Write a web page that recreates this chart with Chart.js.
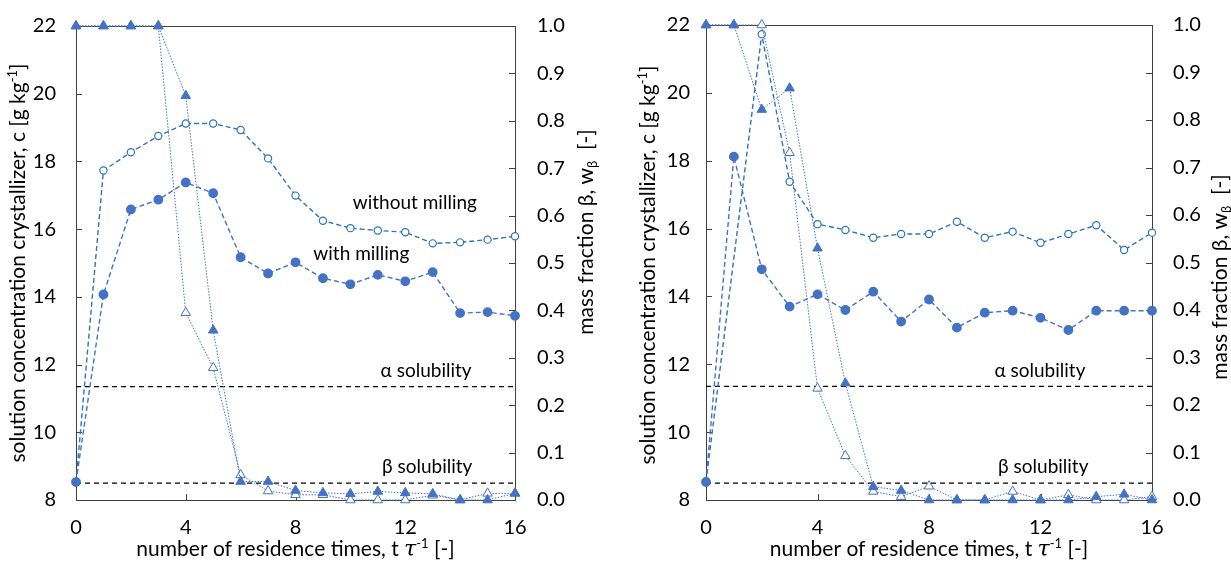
<!DOCTYPE html>
<html>
<head>
<meta charset="utf-8">
<script src="https://cdn.jsdelivr.net/npm/chart.js@4"></script>
<style>
  body { margin: 0; background: #fff; width: 1231px; height: 565px; overflow: hidden; position: relative; }
  canvas { position: absolute; top: -8px; }
  #leftChart { left: 0; }
  #rightChart { left: 615px; }
</style>
</head>
<body>
<canvas id="leftChart" width="615" height="573"></canvas>
<canvas id="rightChart" width="616" height="573"></canvas>
<script>
// Sample data
const residence = [0, 1, 2, 3, 4, 5, 6, 7, 8, 9, 10, 11, 12, 13, 14, 15, 16];
const alphaSolubility = 11.35;
const betaSolubility = 8.5;

// left panel
const leftWithoutMilling = [8.53, 17.73, 18.27, 18.75, 19.12, 19.12, 18.93, 18.09, 16.99, 16.25, 16.03, 15.96, 15.91, 15.58, 15.61, 15.69, 15.79];
const leftWithMilling = [8.53, 14.07, 16.58, 16.87, 17.38, 17.06, 15.17, 14.69, 15.02, 14.55, 14.37, 14.65, 14.46, 14.73, 13.52, 13.55, 13.44];
const leftBetaFilled = [1, 1, 1, 1, 0.853, 0.358, 0.039, 0.039, 0.02, 0.015, 0.013, 0.018, 0.015, 0.013, 0, 0, 0.014];
const leftBetaOpen = [1, 1, 1, 1, 0.395, 0.279, 0.053, 0.019, 0.011, 0.011, 0, 0, 0, 0.01, 0, 0.014, 0.014];

// right panel
const rightWithoutMilling = [8.53, null, 21.73, 17.38, 16.13, 15.96, 15.73, 15.84, 15.84, 16.2, 15.73, 15.91, 15.58, 15.84, 16.1, 15.37, 15.88];
const rightWithMilling = [8.53, 18.12, 14.8, 13.7, 14.06, 13.6, 14.14, 13.26, 13.91, 13.08, 13.52, 13.58, 13.37, 13.01, 13.58, 13.58, 13.58];
const rightBetaFilled = [1, 1, 0.822, 0.867, 0.53, 0.246, 0.028, 0.02, 0, 0, 0, 0, 0, 0, 0.007, 0.012, 0];
const rightBetaOpen = [1, 1, 1, 0.731, 0.235, 0.093, 0.018, 0.007, 0.029, 0, 0, 0.018, 0, 0.011, 0, 0, 0.007];

const blue = '#4472C4';
const openBlue = '#2E75B6';
const FONT = 'Lato';
const SHIFT = 8; // canvases sit 8px above the page top

function pairs(values) {
    return residence.map((t, i) => ({ x: t, y: values[i] }));
}

function flatLine(value) {
    return [{ x: residence[0], y: value }, { x: residence[residence.length - 1], y: value }];
}

// draws a line of text made of pieces (for super/subscripts)
function drawRich(ctx, segs, cx, cy, rot) {
    ctx.save();
    ctx.translate(cx, cy);
    ctx.rotate(rot);
    ctx.textAlign = 'left';
    ctx.textBaseline = 'alphabetic';
    ctx.fillStyle = '#000';
    let total = 0;
    segs.forEach(s => { ctx.font = s.font; s.w = ctx.measureText(s.t).width; total += s.w; });
    let px = -total / 2;
    segs.forEach(s => { ctx.font = s.font; ctx.fillText(s.t, px, 7 + (s.dy || 0)); px += s.w; });
    ctx.restore();
}

const big = '21px ' + FONT;
const small = '13px ' + FONT;
const noteFont = '19px ' + FONT;

const decorPlugin = {
    id: 'decor',
    beforeDatasetsDraw(chart) {
        const ctx = chart.ctx;
        const a = chart.chartArea;
        const xs = chart.scales.x, ys = chart.scales.y, y1s = chart.scales.y1;
        ctx.save();
        ctx.strokeStyle = '#404040';
        ctx.lineWidth = 1;
        ctx.strokeRect(Math.round(a.left) + 0.5, Math.round(a.top) + 0.5, Math.round(a.right - a.left), Math.round(a.bottom - a.top));
        ctx.beginPath();
        ys.ticks.forEach(t => {
            const p = Math.round(ys.getPixelForValue(t.value)) + 0.5;
            ctx.moveTo(a.left, p); ctx.lineTo(a.left + 6, p);
        });
        y1s.ticks.forEach(t => {
            const p = Math.round(y1s.getPixelForValue(t.value)) + 0.5;
            ctx.moveTo(a.right, p); ctx.lineTo(a.right - 6, p);
        });
        xs.ticks.forEach(t => {
            const p = Math.round(xs.getPixelForValue(t.value)) + 0.5;
            ctx.moveTo(p, a.bottom); ctx.lineTo(p, a.bottom - 6);
        });
        ctx.stroke();
        ctx.restore();
    },
    afterDraw(chart, args, opts) {
        const ctx = chart.ctx;
        const a = chart.chartArea;
        const xs = chart.scales.x, ys = chart.scales.y;
        ctx.save();
        ctx.fillStyle = '#000';
        ctx.font = noteFont;
        ctx.textAlign = 'center';
        ctx.textBaseline = 'middle';
        opts.notes.forEach(n => ctx.fillText(n.text, xs.getPixelForValue(n.x), ys.getPixelForValue(n.y)));
        ctx.restore();

        drawRich(ctx, [
            { t: 'solution concentration crystallizer, c [g kg', font: big },
            { t: '-1', font: small, dy: -8 },
            { t: ']', font: big }
        ], opts.leftTitle.x, opts.leftTitle.y + SHIFT, -Math.PI / 2);

        drawRich(ctx, [
            { t: 'mass fraction \u03B2, w', font: big },
            { t: '\u03B2', font: small, dy: 4 },
            { t: '  [-]', font: big }
        ], opts.rightTitle.x, opts.rightTitle.y + SHIFT, -Math.PI / 2);

        drawRich(ctx, [
            { t: 'number of residence times, t ', font: big },
            { t: '\u03C4', font: 'italic 22px "DejaVu Serif"' },
            { t: '-1', font: small, dy: -8 },
            { t: ' [-]', font: big }
        ], (a.left + a.right) / 2, opts.bottomTitleY + SHIFT, 0);
    }
};

function makeChart(canvasId, withoutMilling, withMilling, betaFilled, betaOpen, layout) {
    return new Chart(document.getElementById(canvasId), {
        type: 'line',
        data: {
            datasets: [
                {
                    label: 'mass fraction (filled)',
                    data: pairs(betaFilled),
                    yAxisID: 'y1',
                    borderColor: blue,
                    borderWidth: 1,
                    borderDash: [1.5, 1.5],
                    pointStyle: 'triangle',
                    pointRadius: 5.5,
                    pointBackgroundColor: blue,
                    pointBorderColor: blue,
                    pointBorderWidth: 1,
                    clip: false
                },
                {
                    label: 'mass fraction (open)',
                    data: pairs(betaOpen),
                    yAxisID: 'y1',
                    borderColor: blue,
                    borderWidth: 1,
                    borderDash: [1.5, 1.5],
                    pointStyle: 'triangle',
                    pointRadius: 5.5,
                    pointBackgroundColor: '#fff',
                    pointBorderColor: blue,
                    pointBorderWidth: 1,
                    clip: false
                },
                {
                    label: 'with milling',
                    data: pairs(withMilling),
                    yAxisID: 'y',
                    borderColor: blue,
                    borderWidth: 1.4,
                    borderDash: [5, 3],
                    pointStyle: 'circle',
                    pointRadius: 4.2,
                    pointBackgroundColor: blue,
                    pointBorderColor: blue,
                    clip: false
                },
                {
                    label: 'without milling',
                    data: pairs(withoutMilling),
                    yAxisID: 'y',
                    spanGaps: true,
                    borderColor: openBlue,
                    borderWidth: 1.4,
                    borderDash: [5, 3],
                    pointStyle: 'circle',
                    pointRadius: 3.6,
                    pointBackgroundColor: '#fff',
                    pointBorderColor: openBlue,
                    pointBorderWidth: 1.2,
                    clip: false
                },
                {
                    label: 'alpha solubility',
                    data: flatLine(alphaSolubility),
                    yAxisID: 'y',
                    borderColor: '#000',
                    borderWidth: 1.2,
                    borderDash: [5, 4],
                    pointRadius: 0
                },
                {
                    label: 'beta solubility',
                    data: flatLine(betaSolubility),
                    yAxisID: 'y',
                    borderColor: '#000',
                    borderWidth: 1.2,
                    borderDash: [5, 4],
                    pointRadius: 0
                }
            ]
        },
        options: {
            responsive: false,
            animation: false,
            devicePixelRatio: 1,
            layout: { padding: { top: 18, left: 0, right: 0, bottom: 0 } },
            elements: { line: { tension: 0 } },
            scales: {
                x: {
                    type: 'linear',
                    min: 0,
                    max: 16,
                    grid: { display: false, drawTicks: false },
                    border: { display: false },
                    ticks: { stepSize: 4, padding: 16, color: '#000', font: { family: FONT, size: 20 } },
                    afterFit: s => { s.height = 65; }
                },
                y: {
                    position: 'left',
                    min: 8,
                    max: 22,
                    grid: { display: false, drawTicks: false },
                    border: { display: false },
                    ticks: { stepSize: 2, padding: layout.leftPad, color: '#000', font: { family: FONT, size: 20 } },
                    afterFit: s => { s.width = layout.leftWidth; }
                },
                y1: {
                    position: 'right',
                    min: 0,
                    max: 1,
                    grid: { display: false, drawTicks: false },
                    border: { display: false },
                    ticks: {
                        stepSize: 0.1,
                        padding: layout.rightPad,
                        color: '#000',
                        font: { family: FONT, size: 20 },
                        callback: v => v.toFixed(1)
                    },
                    afterFit: s => { s.width = layout.rightWidth; }
                }
            },
            plugins: {
                legend: { display: false },
                tooltip: { enabled: false },
                decor: {
                    notes: layout.notes,
                    leftTitle: layout.leftTitle,
                    rightTitle: layout.rightTitle,
                    bottomTitleY: 549
                }
            }
        },
        plugins: [decorPlugin]
    });
}

const leftChart = makeChart('leftChart', leftWithoutMilling, leftWithMilling, leftBetaFilled, leftBetaOpen, {
    leftWidth: 76, rightWidth: 100, leftPad: 20, rightPad: 22,
    leftTitle: { x: 18, y: 263 },
    rightTitle: { x: 586, y: 232 },
    notes: [
        { text: 'without milling', x: 12.35, y: 16.78 },
        { text: 'with milling', x: 10.4, y: 15.28 },
        { text: '\u03B1 solubility', x: 12.76, y: 11.8 },
        { text: '\u03B2 solubility', x: 12.8, y: 8.97 }
    ]
});

const rightChart = makeChart('rightChart', rightWithoutMilling, rightWithMilling, rightBetaFilled, rightBetaOpen, {
    leftWidth: 91, rightWidth: 79, leftPad: 16, rightPad: 21,
    leftTitle: { x: 33, y: 265 },
    rightTitle: { x: 605, y: 277 },
    notes: [
        { text: '\u03B1 solubility', x: 11.98, y: 11.8 },
        { text: '\u03B2 solubility', x: 12.1, y: 8.97 }
    ]
});
</script>
</body>
</html>
